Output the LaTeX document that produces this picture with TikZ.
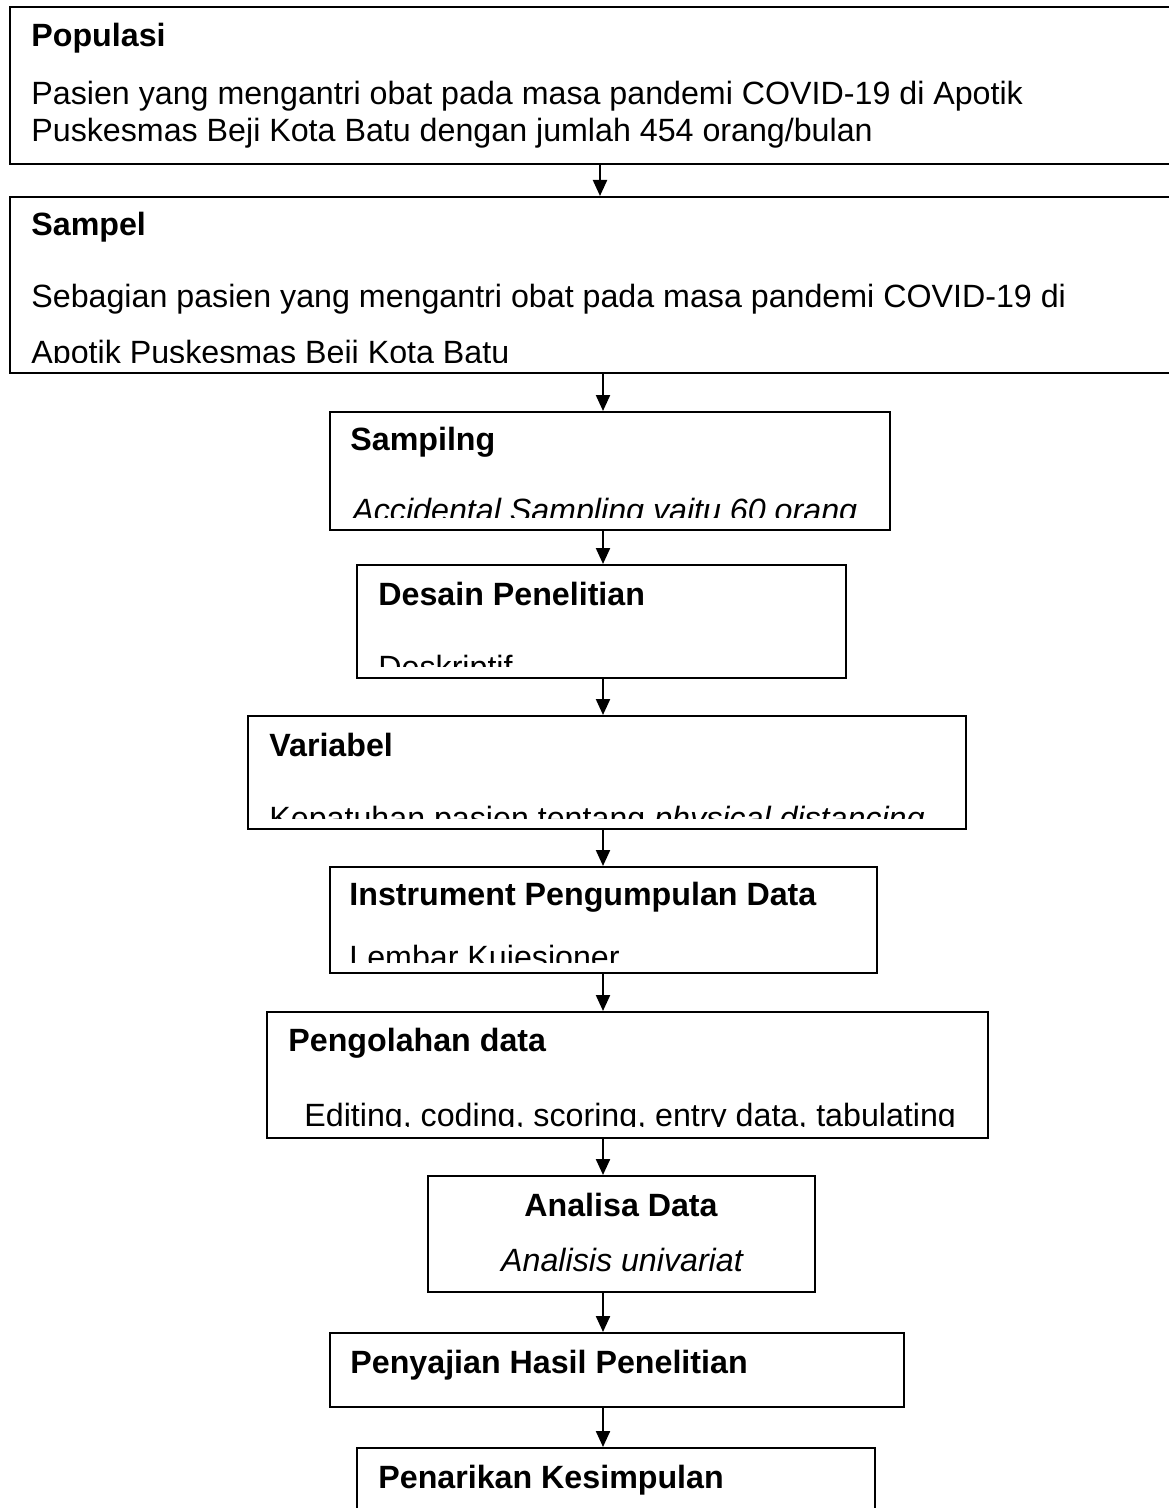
\documentclass[tikz,border=0pt]{standalone}
\usepackage{fontspec}
\setmainfont{Liberation Sans}
\usetikzlibrary{arrows.meta}
\begin{document}
\begin{tikzpicture}[x=0.5pt,y=-0.5pt,
  box/.style={draw, line width=1.2pt, inner sep=0pt, anchor=north west},
  ttl/.style={anchor=base west, inner sep=0pt, font=\fontsize{16.1pt}{19pt}\selectfont\bfseries},
  txt/.style={anchor=base west, inner sep=0pt, font=\fontsize{16.1pt}{19pt}\selectfont},
  arr/.style={line width=1.1pt, -{Triangle[length=8pt,width=7pt]}}]
\useasboundingbox (0,0) rectangle (1168,1508);
\fill[white] (0,0) rectangle (1168,1508);

% boxes
\node[box, minimum width=585.5pt, minimum height=78.5pt] (b1) at (9,6) {};
\node[box, minimum width=585.5pt, minimum height=88pt] (b2) at (9,196) {};
\node[box, minimum width=280pt, minimum height=59pt] (b3) at (329,411) {};
\node[box, minimum width=244.5pt, minimum height=56.5pt] (b4) at (356,564) {};
\node[box, minimum width=359pt, minimum height=56.5pt] (b5) at (247,715) {};
\node[box, minimum width=273.5pt, minimum height=53pt] (b6) at (329,866) {};
\node[box, minimum width=360.5pt, minimum height=63pt] (b7) at (266,1011) {};
\node[box, minimum width=193.5pt, minimum height=58pt] (b8) at (427,1175) {};
\node[box, minimum width=287pt, minimum height=37pt] (b9) at (329,1332) {};
\node[box, minimum width=259pt, minimum height=50pt] (b10) at (356,1447) {};

% texts
\node[ttl] (t1) at (31,47) {Populasi};
\node[txt] (t1a) at (31,105) {Pasien yang mengantri obat pada masa pandemi COVID-19 di Apotik};
\node[txt] (t1b) at (31,142) {Puskesmas Beji Kota Batu dengan jumlah 454 orang/bulan};

\node[ttl] (t2) at (31,236) {Sampel};
\node[txt] (t2a) at (31,307) {Sebagian pasien yang mengantri obat pada masa pandemi COVID-19 di};
\begin{scope}
\clip (9,196) rectangle (1180,362);
\node[txt] (t2b) at (31,364) {Apotik Puskesmas Beji Kota Batu};
\end{scope}

\node[ttl] (t3) at (350,450) {Sampilng};
\begin{scope}
\clip (329,411) rectangle (889,517);
\node[txt] (t3a) at (352,521) {\itshape Accidental Sampling yaitu 60 orang};
\end{scope}

\node[ttl] (t4) at (378,605) {Desain Penelitian};
\begin{scope}
\clip (356,564) rectangle (845,666);
\node[txt] (t4a) at (378,678) {Deskriptif};
\end{scope}

\node[ttl] (t5) at (269,756) {Variabel};
\begin{scope}
\clip (247,715) rectangle (965,818);
\node[txt] (t5a) at (269,829) {Kepatuhan pasien tentang \textit{physical distancing}};
\end{scope}

\node[ttl] (t6) at (349,905) {Instrument Pengumpulan Data};
\begin{scope}
\clip (329,866) rectangle (876,962);
\node[txt] (t6a) at (349,968) {Lembar Kuiesioner};
\end{scope}

\node[ttl] (t7) at (288,1051) {Pengolahan data};
\begin{scope}
\clip (266,1011) rectangle (987,1126);
\node[txt] (t7a) at (304,1126) {Editing, coding, scoring, entry data, tabulating};
\end{scope}

\node[ttl, anchor=base] (t8) at (621,1216) {Analisa Data};
\node[txt, anchor=base] (t8a) at (622,1271) {\itshape Analisis univariat};

\node[ttl] (t9) at (350,1373) {Penyajian Hasil Penelitian};
\node[ttl] (t10) at (378,1488) {Penarikan Kesimpulan};

% connectors
\coordinate (ax) at (600,0);
\coordinate (ay) at (603,0);
\draw[arr] (b1.south -| ax) -- (b2.north -| ax);
\draw[arr] (b2.south -| ay) -- (b3.north -| ay);
\draw[arr] (b3.south -| ay) -- (b4.north -| ay);
\draw[arr] (b4.south -| ay) -- (b5.north -| ay);
\draw[arr] (b5.south -| ay) -- (b6.north -| ay);
\draw[arr] (b6.south -| ay) -- (b7.north -| ay);
\draw[arr] (b7.south -| ay) -- (b8.north -| ay);
\draw[arr] (b8.south -| ay) -- (b9.north -| ay);
\draw[arr] (b9.south -| ay) -- (b10.north -| ay);
\end{tikzpicture}
\end{document}
